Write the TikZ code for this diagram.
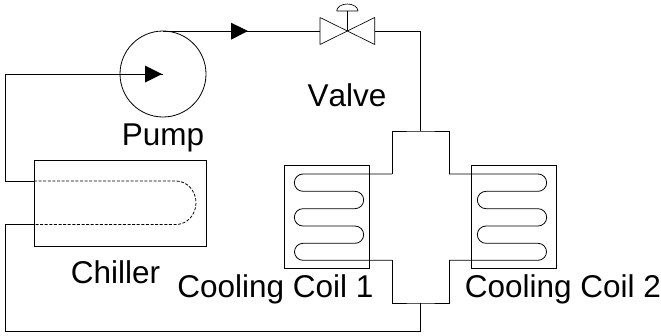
\documentclass[tikz,border=0pt]{standalone}
\usepackage{fontspec}
\setmainfont[Kerning=Off]{Liberation Sans}
\tikzset{
  pipe/.style={draw=black,line width=0.8pt,line join=miter},
  thinpipe/.style={draw=black,line width=0.65pt,line join=bevel},
  unitbox/.style={draw=black,line width=0.8pt,rectangle,inner sep=0pt,outer sep=0pt},
  tag/.style={anchor=base,inner sep=0pt,font=\fontsize{31.5}{36}\selectfont},
  tipfill/.style={fill=black,draw=none},
  hidden pipe/.style={pipe,dash pattern=on 3pt off 1.6pt}
}
\begin{document}
\begin{tikzpicture}[x=1pt,y=1pt,yscale=-1]
\useasboundingbox (0,0) rectangle (661,335);
% units
\node[unitbox,circle,minimum size=86pt] (pump) at (163,74) {};
\node[unitbox,minimum width=172pt,minimum height=86pt] (chiller) at (120,203) {};
\node[unitbox,minimum width=85pt,minimum height=103pt] (coilA) at (326.5,216.5) {};
\node[unitbox,minimum width=84.6pt,minimum height=103pt] (coilB) at (514,216.5) {};
% key points
\coordinate (vc) at (347.3,31);
\coordinate (vw) at (320,31);
\coordinate (ve) at (374.7,31);
\coordinate (vstem) at (347.3,11);
\coordinate (inA) at (5.5,74);
\coordinate (pumpIn) at (163,74);
\coordinate (chTop) at (34,181);
\coordinate (chBot) at (34,224.5);
\coordinate (crossT) at (420.5,131);
\coordinate (crossB) at (420.5,303);
% pump to valve
\draw[pipe] (pump.north) -- (vw);
\path[tipfill,fill] (231,22.7) -- (248,31) -- (231,39.7) -- cycle;
% valve
\draw[thinpipe] (320,17.5) -- (374.7,44.5) -- (374.7,17.5) -- (320,44.5) -- cycle;
\draw[thinpipe] (vc) -- (vstem);
\draw[thinpipe] (336.7,11) -- (358,11) arc[start angle=0,end angle=-180,x radius=10.65pt,y radius=7pt] -- cycle;
% valve to cross
\draw[pipe] (ve) -| (crossT);
% pump inlet
\draw[pipe] (chTop) -| (inA) -- (pumpIn);
\path[tipfill,fill] (145,65.5) -- (162,74) -- (145,82.5) -- cycle;
% chiller inner
\draw[hidden pipe] (chTop) -- (176,181) arc[start angle=-90,end angle=90,x radius=20pt,y radius=21.75pt] -- (chBot);
% chiller return
\draw[pipe] (chBot) -- (5.5,224.5) |- (420.5,331.5) -- (crossB);
% cross
\draw[pipe] (392,174) |- (crossT) -| (449,174);
\draw[pipe] (392,260.3) |- (crossB) -| (449,260.3);
% coil 1
\draw[pipe] (392,174) -- (303,174) arc[start angle=270,end angle=90,radius=8.67pt]
  -- (355,191.33) arc[start angle=-90,end angle=90,radius=8.67pt]
  -- (303,208.67) arc[start angle=270,end angle=90,radius=8.67pt]
  -- (355,226) arc[start angle=-90,end angle=90,radius=8.67pt]
  -- (303,243.3) arc[start angle=270,end angle=90,radius=8.5pt]
  -- (392,260.3);
% coil 2
\draw[pipe] (449,174) -- (538,174) arc[start angle=-90,end angle=90,radius=8.67pt]
  -- (486,191.33) arc[start angle=270,end angle=90,radius=8.67pt]
  -- (538,208.67) arc[start angle=-90,end angle=90,radius=8.67pt]
  -- (486,226) arc[start angle=270,end angle=90,radius=8.67pt]
  -- (538,243.3) arc[start angle=-90,end angle=90,radius=8.5pt]
  -- (449,260.3);
% labels
\node[tag] (pumpLabel) at (163,145) {Pump};
\node[tag] (valveLabel) at (347,106) {Valve};
\node[tag] (chillerLabel) at (115.5,283) {Chiller};
\node[tag] (coilAlabel) at (275.5,297) {Cooling Coil 1};
\node[tag] (coilBlabel) at (563,297) {Cooling Coil 2};
\end{tikzpicture}
\end{document}
